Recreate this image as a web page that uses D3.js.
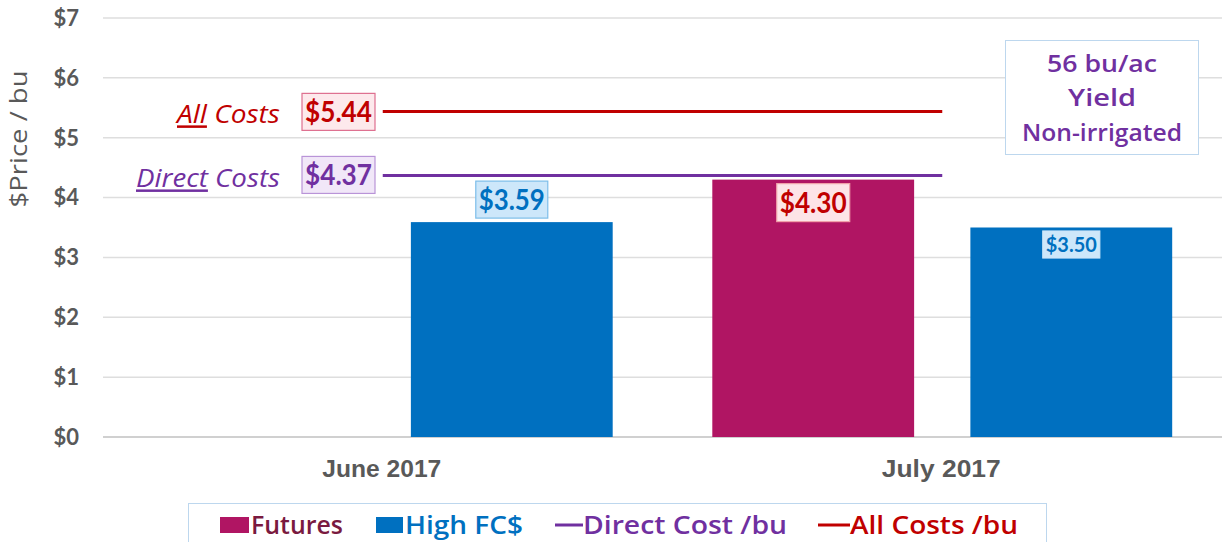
<!DOCTYPE html>
<html><head><meta charset="utf-8">
<script src="https://cdn.jsdelivr.net/npm/d3@7"></script>
<style>body{margin:0;background:#fff}svg{display:block}</style>
</head><body><svg id="c" width="1225" height="542"></svg>
<script>
const categories = ["June 2017", "July 2017"];
const seriesNames = ["Futures", "High FC$"];
const futures = [null, 4.30];
const highFC = [3.59, 3.50];
const directCost = 4.37;
const allCosts = 5.44;
const yTicks = [0, 1, 2, 3, 4, 5, 6, 7];
const noteLines = ["56 bu/ac", "Yield", "Non-irrigated"];
const legendItems = ["Futures", "High FC$", "Direct Cost /bu", "All Costs /bu"];

const svg = d3.select("#c");
const pLeft = 103, pRight = 1222, pTop = 18, pBottom = 437;
const y = d3.scaleLinear().domain([0, 7]).range([pBottom, pTop]);
const x = d3.scaleBand().domain(categories).range([pLeft, pRight]).padding(0);
const xs = d3.scaleBand().domain(seriesNames).range([0, x.bandwidth()]).paddingInner(0.218).paddingOuter(0.193);
const colF = "#b01563", colH = "#0070c0", colD = "#7030a0", colA = "#c00000";
const gray = "#595959";

function fit(sel, w) { sel.attr("textLength", w).attr("lengthAdjust", "spacingAndGlyphs"); return sel; }

// gridlines
svg.append("g").selectAll("line").data(yTicks).join("line")
  .attr("x1", pLeft).attr("x2", pRight)
  .attr("y1", d => y(d)).attr("y2", d => y(d))
  .attr("stroke", d => d === 0 ? "#d0d0d0" : "#dedede").attr("stroke-width", d => d === 0 ? 2 : 1.5);

// y ticks
svg.append("g").selectAll("text").data(yTicks).join("text")
  .attr("x", 79).attr("y", d => y(d)).attr("dy", "0.36em")
  .attr("text-anchor", "end").attr("font-family", "Lato").attr("font-weight", "bold")
  .attr("font-size", 22).attr("fill", gray).text(d => "$" + d);

// y title
fit(svg.append("text").attr("transform", "translate(27,139) rotate(-90)")
  .attr("text-anchor", "middle").attr("font-family", "Open Sans").attr("font-size", 24)
  .attr("fill", gray).text("$Price / bu"), 137);

// x labels
svg.append("g").selectAll("text").data(categories).join("text")
  .attr("x", d => x(d) + x.bandwidth() / 2 - 1).attr("y", 468).attr("dy", "0.36em")
  .attr("text-anchor", "middle").attr("font-family", "Liberation Sans").attr("font-weight", "bold")
  .attr("font-size", 24).attr("fill", gray).text(d => d)
  .attr("textLength", 119).attr("lengthAdjust", "spacingAndGlyphs");

// bars
const barData = [];
categories.forEach((c, i) => {
  if (futures[i] != null) barData.push({c, s: "Futures", v: futures[i], col: colF});
  if (highFC[i] != null) barData.push({c, s: "High FC$", v: highFC[i], col: colH});
});
svg.append("g").selectAll("rect").data(barData).join("rect")
  .attr("x", d => x(d.c) + xs(d.s)).attr("width", xs.bandwidth())
  .attr("y", d => y(d.v)).attr("height", d => y(0) - y(d.v)).attr("fill", d => d.col);

// cost lines
const lx1 = x(categories[0]) + x.bandwidth() / 2, lx2 = x(categories[1]) + x.bandwidth() / 2;
[[allCosts, colA], [directCost, colD]].forEach(([v, c]) => {
  svg.append("line").attr("x1", lx1).attr("x2", lx2).attr("y1", y(v)).attr("y2", y(v))
    .attr("stroke", c).attr("stroke-width", 3);
});

function boxLabel(cx, cy, txt, size, col, fill, stroke, weight, bwid, bh) {
  const g = svg.append("g");
  g.append("rect").attr("x", cx - bwid / 2).attr("y", cy - bh / 2).attr("width", bwid).attr("height", bh)
    .attr("fill", fill).attr("stroke", stroke).attr("stroke-width", 1.2);
  g.append("text").attr("x", cx).attr("y", cy).attr("dy", "0.36em")
    .attr("text-anchor", "middle").attr("font-family", "Lato").attr("font-weight", weight)
    .attr("font-size", size).attr("fill", col).text(txt)
    .attr("textLength", bwid - 6).attr("lengthAdjust", "spacingAndGlyphs");
}

// cost boxes
boxLabel(338.5, y(allCosts) + 0.5, "$" + allCosts.toFixed(2), 28, colA, "#fde9ec", "#de6f8f", "bold", 73, 37);
boxLabel(338.5, y(directCost) - 0.5, "$" + directCost.toFixed(2), 28, colD, "#f1e7f8", "#b994d8", "bold", 73, 37);

// cost text labels
function costText(v, under, rest, col, w) {
  const t = svg.append("text").attr("x", 280).attr("y", y(v) + 3).attr("dy", "0.36em")
    .attr("text-anchor", "end").attr("font-family", "Open Sans").attr("font-style", "italic")
    .attr("font-size", 25).attr("fill", col);
  t.append("tspan").attr("text-decoration", "underline").text(under);
  t.append("tspan").text(" " + rest);
  fit(t, w);
}
costText(allCosts, "All", "Costs", colA, 103);
costText(directCost, "Direct", "Costs", colD, 144);

// data labels
const bw = xs.bandwidth();
boxLabel(x(categories[0]) + xs("High FC$") + bw / 2, y(highFC[0]) - 22.5, "$" + highFC[0].toFixed(2), 28, colH, "#cde7fa", "#7dbde9", "bold", 72, 37);
boxLabel(x(categories[1]) + xs("Futures") + bw / 2, y(futures[1]) + 23, "$" + futures[1].toFixed(2), 28, colA, "#fde4e7", "#f0a0aa", "bold", 73, 38);
boxLabel(x(categories[1]) + xs("High FC$") + bw / 2, y(highFC[1]) + 17, "$" + highFC[1].toFixed(2), 20, colH, "#cde7fa", "#cde7fa", "bold", 57, 27);

// note box
svg.append("rect").attr("x", 1005.5).attr("y", 40.5).attr("width", 193).attr("height", 114)
  .attr("fill", "#fff").attr("stroke", "#bdd7ee").attr("stroke-width", 1);
const noteW = [110, 68, 160];
svg.append("g").selectAll("text").data(noteLines).join("text")
  .attr("x", 1102).attr("y", (d, i) => 63 + i * 34.5).attr("dy", "0.36em")
  .attr("text-anchor", "middle").attr("font-family", "Open Sans").attr("font-weight", 600)
  .attr("font-size", 24).attr("fill", colD).text(d => d)
  .attr("textLength", (d, i) => noteW[i]).attr("lengthAdjust", "spacingAndGlyphs");

// legend
svg.append("rect").attr("x", 188.5).attr("y", 503.5).attr("width", 858).attr("height", 50)
  .attr("fill", "#fff").attr("stroke", "#bdd7ee").attr("stroke-width", 1);
const lg = svg.append("g");
const ly = 524;
const legendSpec = [
  {name: legendItems[0], type: "rect", col: colF, tcol: "#7a1a40", x: 220, tx: 251, w: 92},
  {name: legendItems[1], type: "rect", col: colH, tcol: colH, x: 376, tx: 405, w: 118},
  {name: legendItems[2], type: "line", col: colD, tcol: colD, x: 555, tx: 583, w: 204},
  {name: legendItems[3], type: "line", col: colA, tcol: colA, x: 818, tx: 850, w: 168}
];
legendSpec.forEach(d => {
  if (d.type === "rect") lg.append("rect").attr("x", d.x).attr("y", ly - 7).attr("width", d.tx - d.x - 2).attr("height", 16).attr("fill", d.col);
  else lg.append("line").attr("x1", d.x).attr("x2", d.tx).attr("y1", ly + 1).attr("y2", ly + 1).attr("stroke", d.col).attr("stroke-width", 3);
  lg.append("text").attr("x", d.tx).attr("y", ly + 1).attr("dy", "0.36em")
    .attr("font-family", "Open Sans").attr("font-weight", 600).attr("font-size", 25)
    .attr("fill", d.tcol).text(d.name)
    .attr("textLength", d.w).attr("lengthAdjust", "spacingAndGlyphs");
});
</script></body></html>
